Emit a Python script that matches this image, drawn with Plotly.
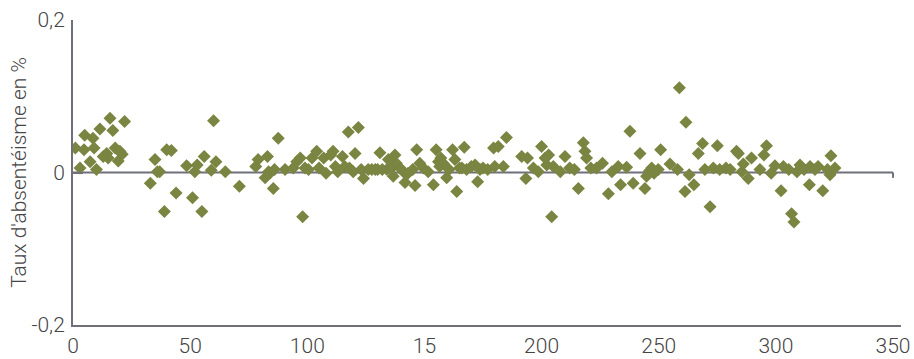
import plotly.graph_objects as go

# Data
x_values = [1, 3, 4.7, 5, 7.3, 8.5, 9, 10, 11.5, 12.9, 14.4, 15, 15.8, 17, 18, 19.3, 20, 21, 22,
            33, 35, 36, 37, 39, 40, 42, 44, 48.5, 51, 52, 53, 55, 56, 59, 60, 61, 65, 71,
            78, 79, 82, 83, 83.5, 84, 85.5, 86, 87.6, 90.5, 94, 95.5, 97, 98, 99, 100.5,
            102, 104, 105, 107, 108, 110, 111, 112, 113, 115, 116, 117.5, 118, 119.6, 120.4,
            121.8, 123, 124, 126, 127.5, 129, 130, 131, 132, 134, 134.6, 136, 136.7, 137.4,
            138, 139.6, 141, 141.7, 143, 145, 146, 146.7, 148, 149.5, 151.6, 153.8, 155, 156,
            156.5, 157, 158, 159.5, 160.5, 162, 163, 163.8, 165, 166, 167, 168, 170, 171.6,
            172.7, 173.7, 175, 177, 179.5, 180, 181.5, 183.7, 185, 191.5, 193.3, 194, 196.5,
            198.6, 200, 201.5, 202.2, 203, 204.3, 205, 208, 210, 212, 214, 215.7, 217.8, 218.5,
            219.2, 221, 223.5, 226, 228.5, 230, 232.7, 233.7, 236.3, 237.7, 239.1, 242, 244.1,
            244.8, 246, 247, 248, 249.8, 250.8, 254.8, 258, 258.8, 261.2, 261.6, 263, 265,
            266.9, 268.7, 269.7, 271.9, 273.3, 275, 276, 278.7, 280.5, 283.2, 284, 285.5,
            286.1, 288.2, 289.6, 293.2, 294.9, 296, 298, 299.6, 302.2, 303.2, 305.5, 306.7,
            307.7, 309, 310.3, 312, 314.3, 314.6, 316.7, 318, 320, 322, 323.1, 323.5, 325.2]
y_values = [0.032, 0.006, 0.030, 0.049, 0.014, 0.045, 0.032, 0.004, 0.057, 0.021, 0.025, 0.019,
            0.071, 0.055, 0.032, 0.015, 0.028, 0.024, 0.067,
            -0.014, 0.017, 0.001, 0.001, -0.051, 0.030, 0.029, -0.027, 0.009, -0.033, 0.001,
            0.010, -0.051, 0.021, 0.003, 0.068, 0.014, 0.001, -0.018,
            0.008, 0.017, -0.007, 0.021, 0.001, -0.001, -0.021, 0.004, 0.045, 0.004, 0.006,
            0.014, 0.019, -0.058, 0.006, 0.004,
            0.019, 0.028, 0.006, 0.019, -0.001, 0.023, 0.028, 0.008, 0.001, 0.021, 0.008,
            0.053, 0.006, 0.001, 0.025,
            0.059, 0.004, -0.008, 0.004, 0.004, 0.004, 0.004, 0.026, 0.004, 0.004, 0.017,
            0.006, -0.005, 0.023,
            0.012, 0.006, 0.001, -0.013, -0.001, 0.004, -0.017, 0.030, 0.012, 0.006, 0.001,
            -0.016, 0.030, 0.014,
            0.008, 0.019, 0.012, -0.007, 0.004, 0.030, 0.017, -0.025, 0.006, 0.006, 0.033,
            0.004, 0.008, 0.010,
            -0.012, 0.004, 0.006, 0.004, 0.032, 0.008, 0.034, 0.008, 0.046, 0.021, -0.008,
            0.019, 0.006,
            0.001, 0.034, 0.019, 0.010, 0.023, -0.058, 0.008, 0.001, 0.021, 0.006, 0.004,
            -0.021, 0.039, 0.028,
            0.019, 0.006, 0.006, 0.012, -0.028, 0.001, 0.008, -0.016, 0.007, 0.054, -0.014,
            0.025, -0.021,
            -0.005, 0.002, 0.006, -0.001, 0.004, 0.030, 0.011, 0.004, 0.111, -0.025, 0.066,
            -0.003, -0.016,
            0.025, 0.038, 0.004, -0.045, 0.006, 0.035, 0.004, 0.006, 0.004, 0.028, 0.025,
            0.001,
            0.011, -0.008, 0.019, 0.004, 0.023, 0.035, -0.001, 0.009, -0.024, 0.008, 0.004,
            -0.054,
            -0.065, 0.001, 0.010, 0.004, -0.016, 0.008, 0.004, 0.008, -0.024, 0.004, -0.003,
            0.022, 0.006]

x_tick_vals = [0, 50, 100, 150, 200, 250, 300, 350]
x_tick_text = ["0", "50", "100", "15", "200", "250", "300", "350"]
y_tick_vals = [-0.2, 0, 0.2]
y_tick_text = ["-0,2", "0", "0,2"]
y_title = "Taux d'absentéisme en %"

AXIS = "#6f707a"
MARK = "#7a8541"
TXT = "#454545"
FONT = dict(family="Roboto", size=21, color=TXT, weight=300)

fig = go.Figure()
fig.add_trace(go.Scatter(
    x=x_values, y=y_values, mode="markers",
    marker=dict(symbol="diamond", size=10, color=MARK, line=dict(width=0)),
    hoverinfo="x+y", showlegend=False,
))

# zero line with end tick
fig.add_shape(type="line", xref="x", yref="y", x0=0, x1=350, y0=0, y1=0,
              line=dict(color=AXIS, width=2), layer="below")
fig.add_shape(type="line", xref="x", yref="y", x0=350, x1=350, y0=0, y1=-0.007,
              line=dict(color=AXIS, width=2), layer="below")

fig.update_layout(
    width=914, height=359,
    margin=dict(l=73, r=13, t=20, b=34),
    paper_bgcolor="white", plot_bgcolor="white",
    font=FONT,
    xaxis=dict(range=[0, 353.4], tickvals=x_tick_vals, ticktext=x_tick_text,
               showgrid=False, zeroline=False, showline=True, linecolor=AXIS,
               linewidth=2, ticks="", ticklabelstandoff=1, tickfont=FONT,
               automargin=False),
    yaxis=dict(range=[-0.2, 0.2], tickvals=y_tick_vals, ticktext=y_tick_text,
               showgrid=False, zeroline=False, showline=True, linecolor=AXIS,
               linewidth=2, ticks="inside", ticklen=10, tickcolor=AXIS, tickwidth=2,
               tickfont=FONT, ticklabelstandoff=2, automargin=False),
    annotations=[dict(text=y_title, xref="paper", yref="paper", x=-0.066, y=0.5,
                      xanchor="center", yanchor="middle", textangle=-90,
                      showarrow=False, font=dict(family="Roboto", size=21, color=TXT, weight=300))],
)

fig.write_html("out.html", config={"displayModeBar": False},
               post_script="document.body.style.margin='0';document.body.style.overflow='hidden';")
